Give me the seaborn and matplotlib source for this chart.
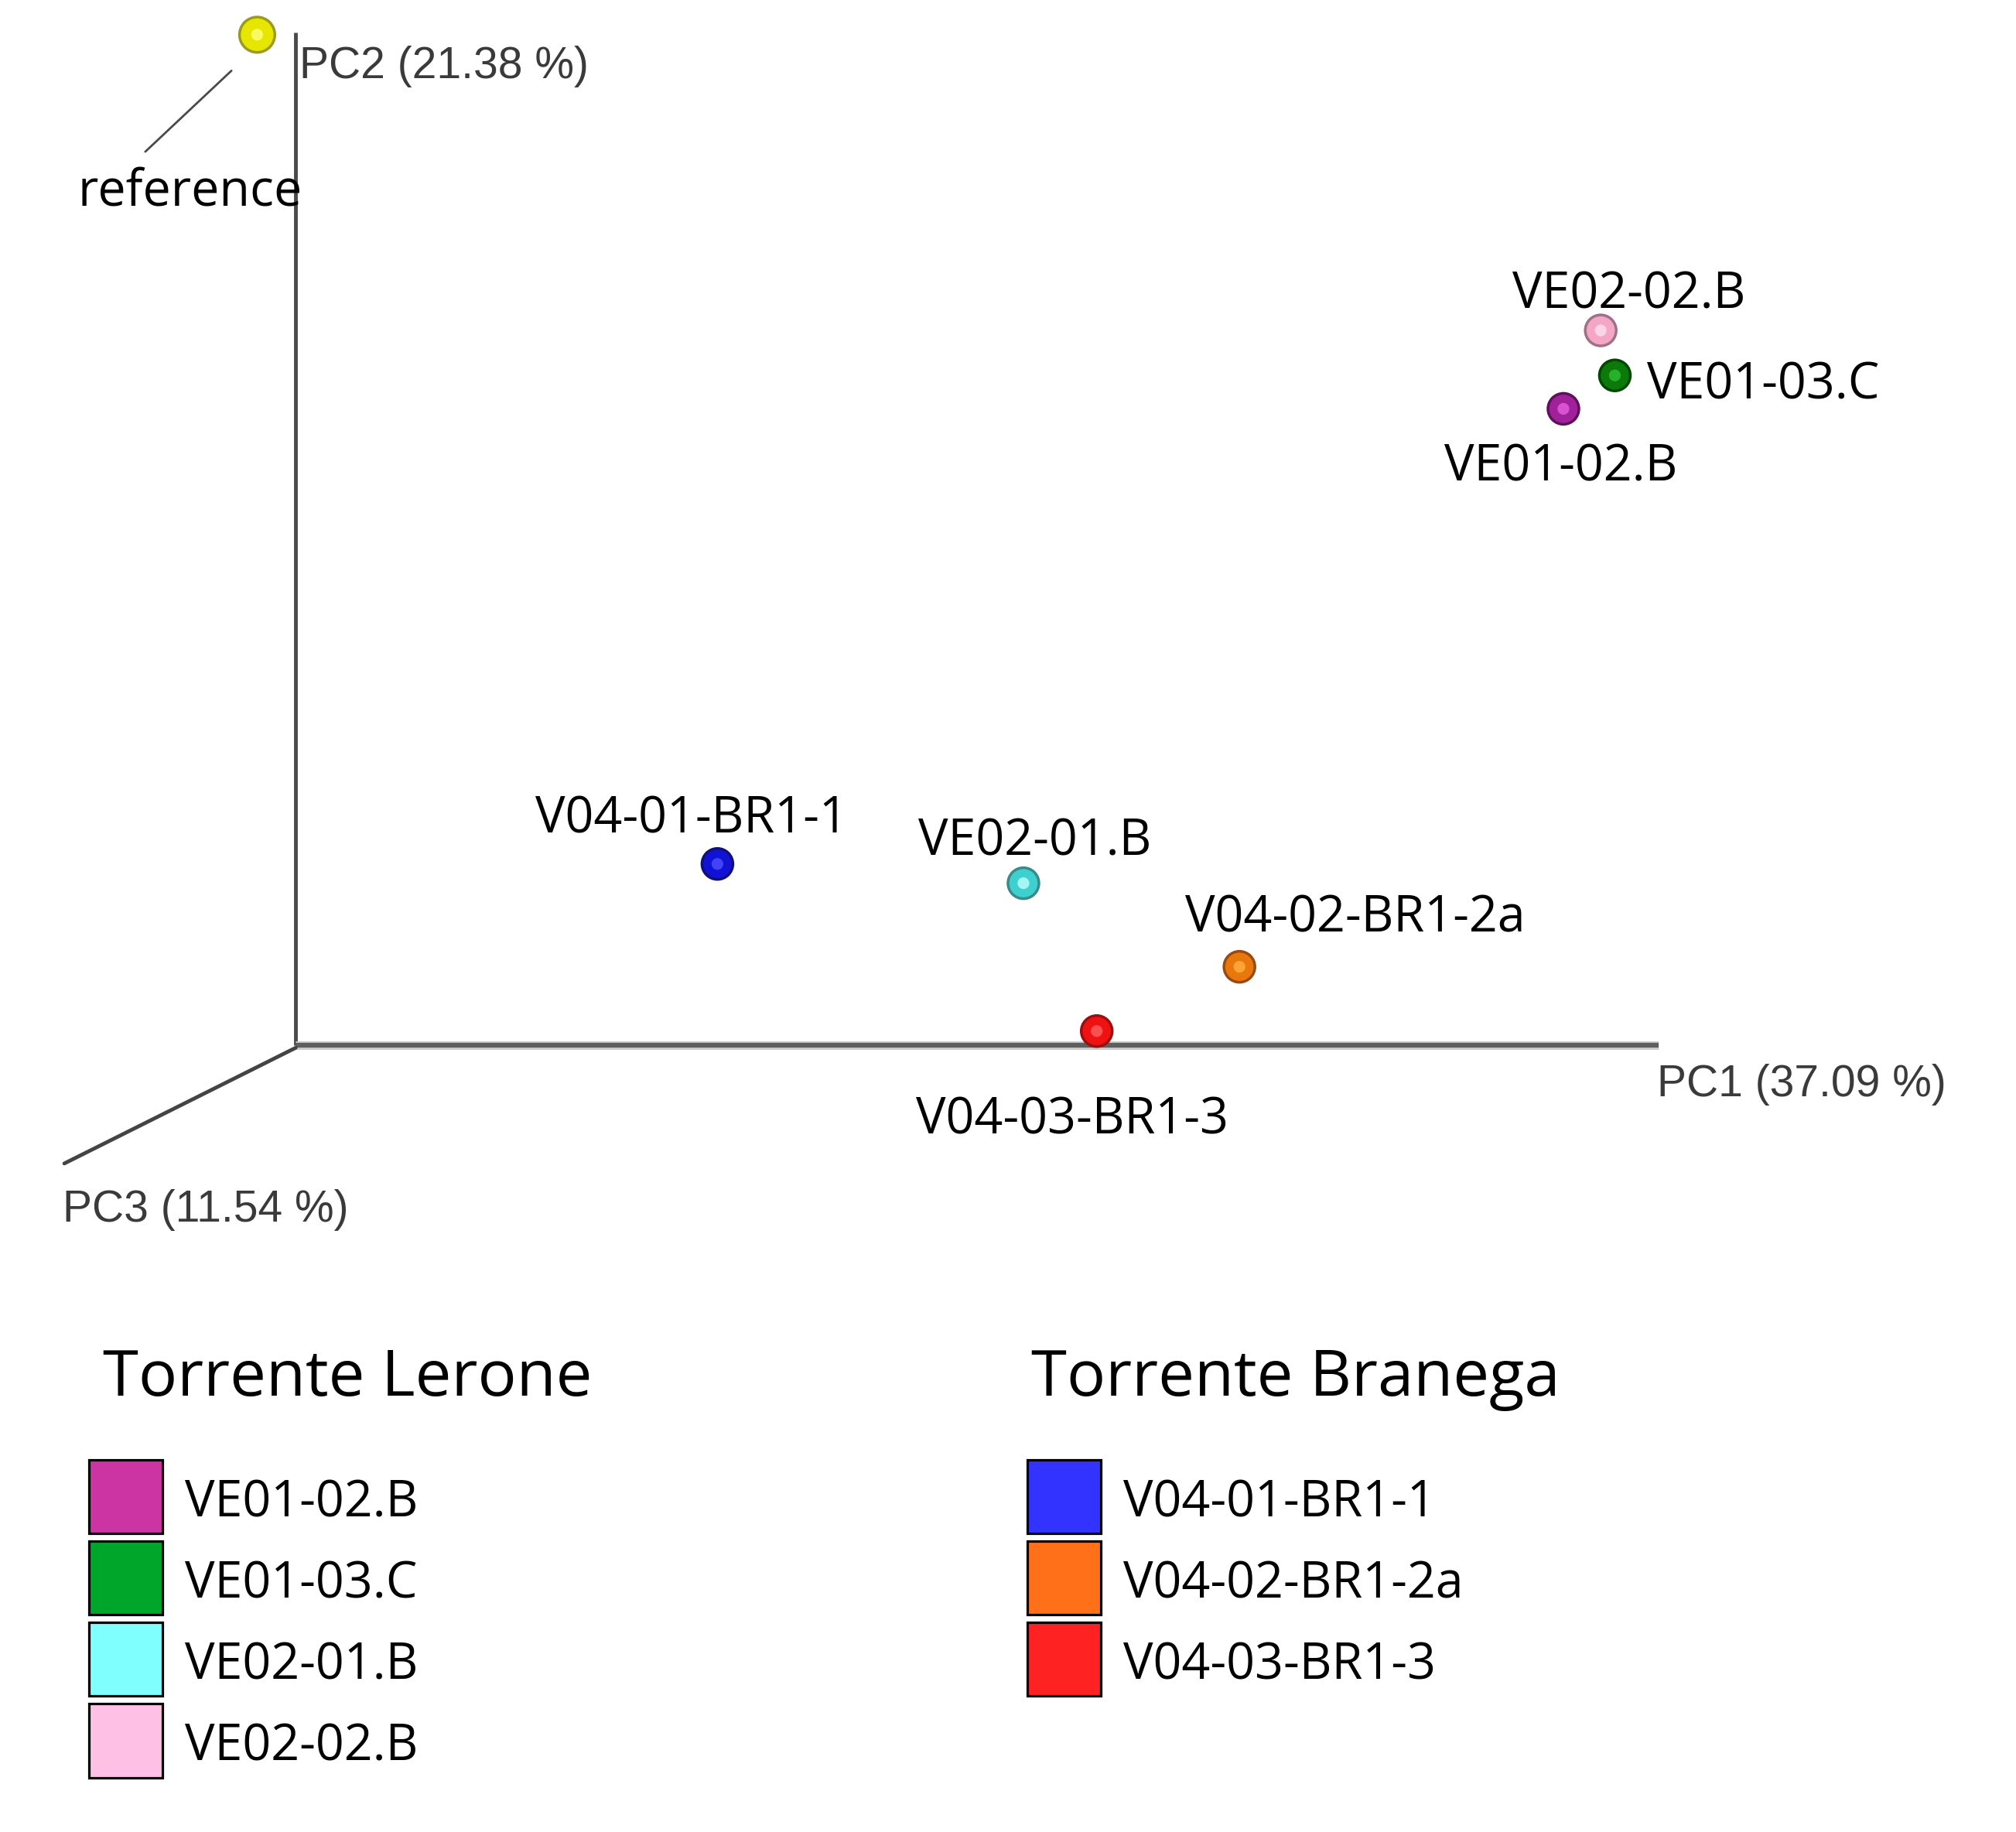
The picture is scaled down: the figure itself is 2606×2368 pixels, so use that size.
import pandas as pd
import seaborn as sns
import matplotlib.pyplot as plt
from matplotlib.patches import Patch, Rectangle
from matplotlib.legend_handler import HandlerPatch

# Sample positions in the projected PCA view (PC1 right, PC2 up, PC3 receding)
samples = ["reference", "VE02-02.B", "VE01-03.C", "VE01-02.B",
           "V04-01-BR1-1", "VE02-01.B", "V04-02-BR1-2a", "V04-03-BR1-3"]
proj_x = [-30, 1015, 1026, 986, 328, 566, 734, 623]
proj_y = [786, 556, 521, 495, 141, 126, 61, 11]

axis_names = ["PC1 (37.09 %)", "PC2 (21.38 %)", "PC3 (11.54 %)"]

lerone = ["VE01-02.B", "VE01-03.C", "VE02-01.B", "VE02-02.B"]
branega = ["V04-01-BR1-1", "V04-02-BR1-2a", "V04-03-BR1-3"]
group_titles = ["Torrente Lerone", "Torrente Branega"]

# sphere colours / legend colours
sphere_colors = {
    "reference": "#E6E600", "VE02-02.B": "#F4A6C6", "VE01-03.C": "#0B7A0B",
    "VE01-02.B": "#A0219A", "V04-01-BR1-1": "#1212D6", "VE02-01.B": "#3ECFCF",
    "V04-02-BR1-2a": "#E8780E", "V04-03-BR1-3": "#F01212",
}
sphere_edges = {
    "reference": "#9A9A20", "VE02-02.B": "#A07088", "VE01-03.C": "#004800",
    "VE01-02.B": "#5E105E", "V04-01-BR1-1": "#10107A", "VE02-01.B": "#3A8A8A",
    "V04-02-BR1-2a": "#9A4A10", "V04-03-BR1-3": "#9A1010",
}
sphere_highlights = {
    "reference": "#FFFF80", "VE02-02.B": "#FFE0F0", "VE01-03.C": "#30C030",
    "VE01-02.B": "#E860E0", "V04-01-BR1-1": "#5050FF", "VE02-01.B": "#C0FFFF",
    "V04-02-BR1-2a": "#FFB040", "V04-03-BR1-3": "#FF6060",
}
legend_colors = {
    "VE01-02.B": "#CC33A3", "VE01-03.C": "#00A62A", "VE02-01.B": "#80FFFF",
    "VE02-02.B": "#FFC0E6", "V04-01-BR1-1": "#3333FF", "V04-02-BR1-2a": "#FF7019",
    "V04-03-BR1-3": "#FF2222",
}

df = pd.DataFrame({"sample": samples, "x": proj_x, "y": proj_y})

sns.set_theme(style="white")
plt.rcParams["font.family"] = ["Open Sans", "DejaVu Sans"]
plt.rcParams["text.color"] = "black"

fig = plt.figure(figsize=(26.06, 23.68), dpi=100)
ax = fig.add_axes([0, 0, 1, 1])
ax.set_xlim(-230, 1338)
ax.set_ylim(-612, 813)
ax.axis("off")

# axes of the 3D view
ax.plot([0, 0], [0, 788], color="#4a4a4a", lw=3.5, solid_capstyle="butt", zorder=1)
ax.plot([0, 1060], [0, 0], color="#cccccc", lw=8, solid_capstyle="butt", zorder=1)
ax.plot([0, 1060], [0, 0], color="#5e5e5e", lw=4.5, solid_capstyle="butt", zorder=1)
ax.plot([0, -180], [-2, -92], color="#444444", lw=3.5, zorder=1)

lab_kw = dict(family=["Liberation Sans", "DejaVu Sans"], fontsize=41, color="#3a3a3a",
              ha="left", va="baseline")
ax.text(1059, -40, axis_names[0], **lab_kw)
ax.text(3, 752, axis_names[1], **lab_kw)
ax.text(-181, -137, axis_names[2], **lab_kw)

# spheres
sizes = {s: (1080 if s == "reference" else 830) for s in samples}
sns.scatterplot(data=df, x="x", y="y", hue="sample", palette=sphere_colors,
                size="sample", sizes=sizes, legend=False, ax=ax,
                edgecolor=[sphere_edges[s] for s in samples], linewidth=2.5, zorder=3)
sns.scatterplot(data=df, x="x", y="y", hue="sample", palette=sphere_highlights,
                s=120, legend=False, ax=ax, edgecolor="none", alpha=0.8, zorder=4)

# point labels (offsets in view units)
label_pos = {
    "VE02-02.B": (22, 17, "center"), "VE01-03.C": (25, -18, "left"),
    "VE01-02.B": (-2, -56, "center"), "V04-01-BR1-1": (-20, 24, "center"),
    "VE02-01.B": (9, 22, "center"), "V04-02-BR1-2a": (90, 27, "center"),
    "V04-03-BR1-3": (-19, -80, "center"), "reference": (-52, -133, "center"),
}
for s, x, y in zip(samples, proj_x, proj_y):
    dx, dy, ha = label_pos[s]
    ax.text(x + dx, y + dy, s, ha=ha, va="baseline", fontsize=46.5, color="black", zorder=5)

# leader line for the reference sample
ax.plot([-50, -117], [758, 695], color="#4a4a4a", lw=2, zorder=2)


def low_box(legend, orig_handle, xdescent, ydescent, width, height, fontsize):
    # swatch position relative to the label baseline
    return Rectangle((-xdescent, -ydescent + 0.08 * fontsize), width, height)


# group legends
for title, group, x0, xt in [(group_titles[0], lerone, 0.0441, 0.0510),
                             (group_titles[1], branega, 0.5096, 0.5115)]:
    fig.text(xt, 0.2382, title, ha="left", va="baseline", fontsize=60, color="black")
    handles = [Patch(facecolor=legend_colors[s], edgecolor="black", linewidth=2.3, label=s)
               for s in group]
    fig.legend(handles=handles, loc="upper left", bbox_to_anchor=(x0, 0.2009),
               frameon=False, fontsize=46.5, handlelength=1.473, handleheight=1.889,
               labelspacing=0.155, handletextpad=0.45, borderpad=0, borderaxespad=0,
               labelcolor="black",
               handler_map={Patch: HandlerPatch(patch_func=low_box)})

fig.savefig("out.png", dpi=100)
